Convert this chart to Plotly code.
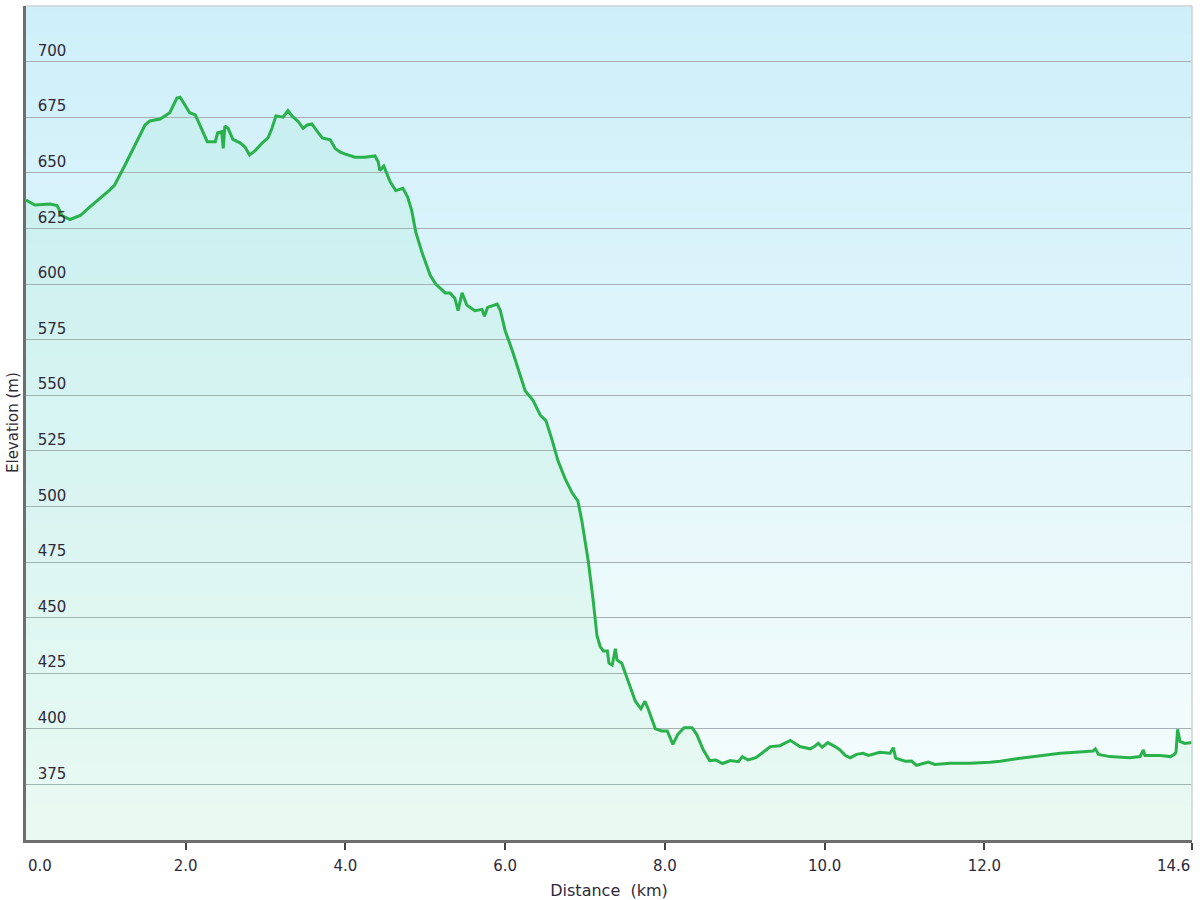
import plotly.graph_objects as go

# Distance along route (km) and elevation (m)
distance_km = [
    0.00, 0.11, 0.30, 0.39, 0.45, 0.55, 0.68, 0.80, 1.05, 1.11,
    1.24, 1.36, 1.49, 1.55, 1.68, 1.80, 1.89, 1.93, 1.99, 2.05,
    2.12, 2.18, 2.27, 2.37, 2.40, 2.45, 2.47, 2.49, 2.53, 2.59,
    2.68, 2.74, 2.80, 2.87, 2.96, 3.03, 3.08, 3.13, 3.22, 3.28,
    3.33, 3.41, 3.47, 3.52, 3.58, 3.64, 3.71, 3.81, 3.87, 3.93,
    3.99, 4.12, 4.24, 4.37, 4.41, 4.43, 4.48, 4.56, 4.63, 4.72,
    4.78, 4.83, 4.88, 4.96, 5.06, 5.13, 5.25, 5.31, 5.37, 5.41,
    5.46, 5.52, 5.62, 5.71, 5.74, 5.78, 5.90, 5.94, 6.00, 6.09,
    6.16, 6.25, 6.35, 6.44, 6.51, 6.59, 6.66, 6.75, 6.84, 6.91,
    6.96, 7.04, 7.10, 7.15, 7.19, 7.23, 7.28, 7.30, 7.34, 7.38,
    7.40, 7.46, 7.54, 7.63, 7.70, 7.75, 7.79, 7.88, 7.96, 8.03,
    8.10, 8.16, 8.24, 8.34, 8.40, 8.48, 8.56, 8.64, 8.72, 8.82,
    8.92, 8.97, 9.04, 9.14, 9.25, 9.32, 9.44, 9.52, 9.57, 9.69,
    9.82, 9.87, 9.92, 9.97, 10.04, 10.13, 10.19, 10.26, 10.32, 10.40,
    10.48, 10.55, 10.69, 10.82, 10.86, 10.89, 11.01, 11.09, 11.15, 11.30,
    11.38, 11.57, 11.82, 12.07, 12.20, 12.45, 12.70, 12.82, 12.95, 13.14,
    13.36, 13.39, 13.43, 13.57, 13.82, 13.95, 13.99, 14.01, 14.20, 14.33,
    14.38, 14.40, 14.42, 14.45, 14.51, 14.60,
]
elevation_m = [
    637.8, 635.5, 636.0, 635.3, 630.8, 629.0, 630.8, 634.7, 642.3, 644.5,
    653.5, 662.5, 671.5, 673.3, 674.2, 677.0, 683.6, 684.0, 680.5, 677.0,
    676.0, 671.0, 664.0, 664.0, 668.0, 668.5, 661.0, 671.0, 670.0, 665.0,
    663.5, 661.7, 658.0, 660.0, 663.5, 665.7, 670.0, 675.6, 675.0, 678.0,
    675.6, 673.0, 670.0, 671.5, 672.0, 669.0, 665.7, 664.8, 661.0, 659.4,
    658.5, 657.0, 657.0, 657.6, 655.0, 651.0, 653.0, 646.0, 642.0, 643.0,
    639.0, 633.0, 623.4, 614.0, 604.0, 600.0, 596.0, 596.0, 593.6, 588.0,
    596.0, 590.5, 588.0, 588.6, 585.5, 589.5, 591.0, 588.0, 579.0, 570.0,
    562.0, 552.0, 547.6, 541.0, 538.6, 529.6, 520.6, 512.5, 506.0, 502.5,
    493.5, 475.5, 458.3, 441.7, 437.0, 435.0, 435.0, 429.5, 428.6, 436.0,
    431.0, 429.5, 421.4, 412.4, 409.0, 412.4, 409.0, 400.0, 399.0, 399.0,
    393.0, 397.4, 400.5, 400.5, 397.4, 390.6, 385.7, 386.0, 384.4, 385.7,
    385.2, 387.5, 386.0, 387.0, 390.0, 392.0, 392.4, 393.8, 394.8, 392.0,
    391.0, 392.0, 393.5, 391.7, 393.8, 392.0, 390.6, 388.0, 387.0, 388.5,
    389.0, 388.0, 389.4, 389.0, 391.5, 386.8, 385.4, 385.5, 383.6, 385.0,
    384.0, 384.5, 384.5, 385.0, 385.4, 386.8, 388.0, 388.3, 389.0, 389.4,
    390.0, 391.0, 388.5, 387.5, 387.0, 387.5, 390.5, 388.0, 388.0, 387.5,
    388.5, 389.5, 399.8, 394.3, 393.4, 393.8,
]

x_tick_vals = [0, 2, 4, 6, 8, 10, 12, 14.6]
x_tick_text = ["", "2.0", "4.0", "6.0", "8.0", "10.0", "12.0", ""]
y_tick_vals = [375, 400, 425, 450, 475, 500, 525, 550, 575, 600, 625, 650, 675, 700]

FONT = "DejaVu Sans"
TEXT = "#2e2a3a"

fig = go.Figure()

fig.add_trace(go.Scatter(
    x=distance_km, y=elevation_m, mode="lines",
    line=dict(color="#29b24b", width=3),
    fill="tozeroy", fillcolor="rgba(110,225,160,0.10)",
    hoverinfo="x+y", showlegend=False,
))

# vertical background gradient (drawn below gridlines)
shapes = []
n = 80
top = (206, 239, 250)
bot = (247, 253, 252)
for i in range(n):
    t = i / (n - 1)
    c = tuple(round(top[k] + (bot[k] - top[k]) * t) for k in range(3))
    y1 = min(1, 1 - i / n + 0.004)
    y0 = 1 - (i + 1) / n
    shapes.append(dict(type="rect", xref="paper", yref="paper", x0=0, x1=1,
                       y0=y0, y1=y1, line=dict(width=0),
                       fillcolor="rgb(%d,%d,%d)" % c, layer="below"))
# light top / right border
shapes.append(dict(type="line", xref="paper", yref="paper", x0=0, x1=1, y0=1, y1=1,
                   line=dict(color="#cfd3d5", width=1.5), layer="above"))
shapes.append(dict(type="line", xref="paper", yref="paper", x0=1, x1=1, y0=0, y1=1,
                   line=dict(color="#cfd3d5", width=1.5), layer="above"))

annotations = [
    dict(text="0.0", x=0, y=0, xref="x", yref="paper", xanchor="left", yanchor="top",
         yshift=-15, showarrow=False, font=dict(family=FONT, size=15, color=TEXT)),
    dict(text="14.6", x=14.6, y=0, xref="x", yref="paper", xanchor="right", yanchor="top",
         yshift=-15, showarrow=False, font=dict(family=FONT, size=15, color=TEXT)),
    dict(text="Elevation (m)", x=0, y=0.5, xref="paper", yref="paper",
         xanchor="center", yanchor="middle", xshift=-13, textangle=-90,
         showarrow=False, font=dict(family=FONT, size=15, color=TEXT)),
]

fig.update_layout(
    width=1200, height=900,
    margin=dict(l=26, r=8, t=6, b=60, autoexpand=False),
    paper_bgcolor="white", plot_bgcolor="rgba(0,0,0,0)",
    font=dict(family=FONT, size=15, color=TEXT),
    shapes=shapes, annotations=annotations,
    xaxis=dict(
        range=[0, 14.6], tickvals=x_tick_vals, ticktext=x_tick_text,
        ticks="outside", ticklen=7, tickwidth=2, tickcolor="#444",
        ticklabelstandoff=3, automargin=False,
        showline=True, linecolor="#6e6e6e", linewidth=2.5,
        showgrid=False, zeroline=False,
        tickfont=dict(family=FONT, size=15, color=TEXT),
        title=dict(text="Distance  (km)", standoff=14,
                   font=dict(family=FONT, size=16, color=TEXT)),
    ),
    yaxis=dict(
        range=[350, 725], tickvals=y_tick_vals, automargin=False,
        ticklabelposition="inside", ticks="", ticklabelstandoff=12, ticklabelshift=-11,
        showline=True, linecolor="#6e6e6e", linewidth=2.5,
        showgrid=True, gridcolor="#a6b0b5", gridwidth=1, zeroline=False,
        tickfont=dict(family=FONT, size=15, color=TEXT),
    ),
)

fig.write_html("out.html", config={"displayModeBar": False},
               post_script="document.body.style.margin='0';document.body.style.padding='0';")
